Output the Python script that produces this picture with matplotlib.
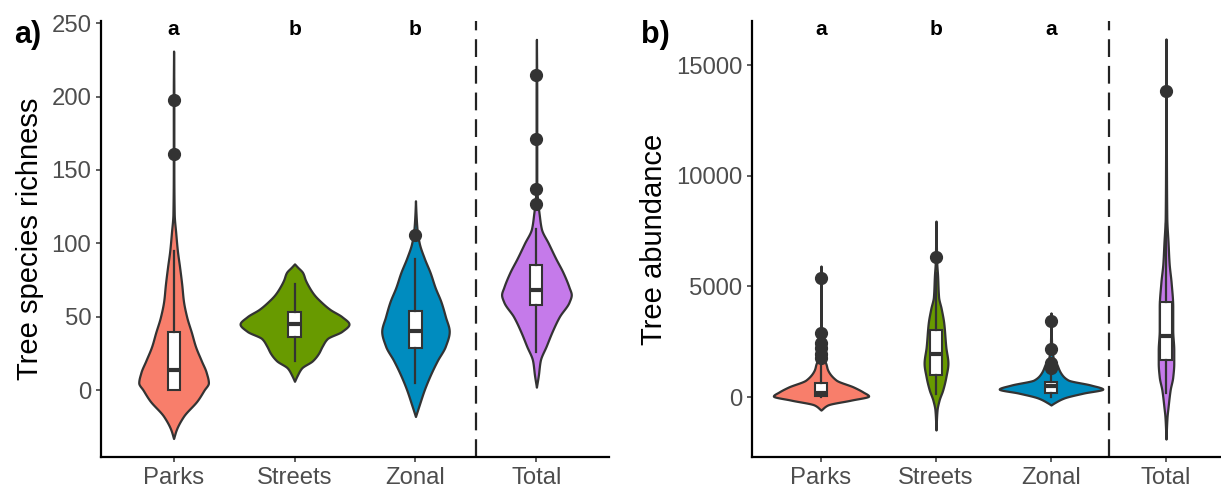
import numpy as np
import matplotlib
matplotlib.use("Agg")
import matplotlib.pyplot as plt

plt.rcParams['font.family'] = ['Liberation Sans', 'DejaVu Sans']

# ---------------- data ----------------
categories = ["Parks", "Streets", "Zonal", "Total"]
colors = ["#F87E6B", "#689A00", "#008CBF", "#C57AEA"]

# Panel a: tree species richness
# violin outline: levels and relative density (1 = widest violin)
rich_parks_y = [-33, -27, -18, -7, 0, 5, 12, 20, 30, 39, 50, 61, 72, 84, 95, 107, 120, 150, 200, 231]
rich_parks_d = [0, .05, .18, .44, .56, .64, .60, .51, .40, .33, .24, .18, .15, .11, .07, .04, .012, .005, .005, 0]
rich_streets_y = [6, 10, 15, 20, 25, 30, 35, 40, 45, 50, 55, 60, 65, 70, 75, 80, 84, 86]
rich_streets_d = [0, .05, .13, .33, .44, .51, .60, .87, 1.0, .87, .65, .49, .36, .27, .20, .15, .05, 0]
rich_zonal_y = [-18, -10, 0, 10, 20, 30, 40, 50, 60, 70, 80, 90, 100, 109, 120, 129]
rich_zonal_d = [0, .07, .16, .27, .40, .55, .62, .55, .47, .36, .27, .16, .07, .03, .01, 0]
rich_total_y = [2, 10, 20, 30, 40, 50, 60, 65, 70, 80, 90, 100, 110, 120, 130, 140, 200, 239]
rich_total_d = [0, .035, .07, .18, .29, .42, .60, .64, .60, .49, .35, .22, .09, .05, .02, .006, .006, 0]

# box statistics (q1, median, q3, lower whisker, upper whisker) and outliers
rich_q1 = [0, 36, 28.5, 58]
rich_med = [13.5, 45, 40, 68]
rich_q3 = [39.5, 53, 54, 85]
rich_lo = [0, 20, 4.6, 26]
rich_hi = [95, 72, 89, 110]
rich_out = [[161, 198], [], [106], [127, 137, 171, 215]]
rich_letters = ["a", "b", "b"]

# Panel b: tree abundance
abun_parks_y = [-590, -360, -140, 45, 230, 450, 770, 1220, 1580, 1700, 3000, 5920]
abun_parks_d = [0, .13, .58, .92, .81, .63, .29, .13, .08, .02, .008, 0]
abun_streets_y = [-1490, -590, -140, 320, 900, 1530, 2260, 3340, 4000, 4520, 5500, 6050, 7950]
abun_streets_d = [0, .02, .06, .13, .19, .23, .19, .15, .10, .05, .03, .015, 0]
abun_zonal_y = [-360, -270, -45, 180, 360, 540, 770, 1080, 1540, 1800, 2500, 3800]
abun_zonal_d = [0, .06, .25, .63, 1.0, .77, .33, .19, .10, .04, .01, 0]
abun_total_y = [-1900, -900, -450, 320, 900, 1540, 2120, 3030, 4070, 5150, 6050, 6960, 8130, 12000, 16180]
abun_total_d = [0, .02, .04, .08, .13, .15, .15, .13, .13, .10, .06, .04, .015, .006, 0]

abun_q1 = [60, 990, 180, 1670]
abun_med = [200, 1940, 500, 2760]
abun_q3 = [620, 3030, 680, 4290]
abun_lo = [0, 150, 20, 200]
abun_hi = [1500, 5600, 1200, 7800]
abun_out = [[1750, 1950, 2200, 2450, 2900, 5380], [6330], [1300, 1400, 1550, 2170, 3430], [13830]]
abun_letters = ["a", "b", "a"]

# ---------------- helpers ----------------
def pchip(x, y, xn):
    x = np.asarray(x, float); y = np.asarray(y, float)
    h = np.diff(x); d = np.diff(y) / h
    n = len(x); m = np.zeros(n)
    for k in range(1, n - 1):
        if d[k - 1] * d[k] > 0:
            w1 = 2 * h[k] + h[k - 1]; w2 = h[k] + 2 * h[k - 1]
            m[k] = (w1 + w2) / (w1 / d[k - 1] + w2 / d[k])
    m[0] = d[0]; m[-1] = d[-1]
    idx = np.clip(np.searchsorted(x, xn) - 1, 0, n - 2)
    t = (xn - x[idx]) / h[idx]
    h00 = 2 * t**3 - 3 * t**2 + 1; h10 = t**3 - 2 * t**2 + t
    h01 = -2 * t**3 + 3 * t**2; h11 = t**3 - t**2
    return h00 * y[idx] + h10 * h[idx] * m[idx] + h01 * y[idx + 1] + h11 * h[idx] * m[idx + 1]

EDGE = "#333333"

def draw_panel(ax, violins, q1, med, q3, lo, hi, outs):
    for i, (vy, vd) in enumerate(violins):
        pos = i + 1
        yy = np.linspace(vy[0], vy[-1], 600)
        ww = np.clip(pchip(vy, vd, yy), 0, None) * 0.45
        ax.fill_betweenx(yy, pos - ww, pos + ww, facecolor=colors[i],
                         edgecolor=EDGE, linewidth=1.6, zorder=2)
    stats = []
    for i in range(len(q1)):
        stats.append(dict(med=med[i], q1=q1[i], q3=q3[i], whislo=lo[i],
                          whishi=hi[i], fliers=np.array(outs[i])))
    ax.bxp(stats, positions=[1, 2, 3, 4], widths=0.1, patch_artist=True,
           showcaps=False, manage_ticks=False,
           boxprops=dict(facecolor="white", edgecolor=EDGE, linewidth=1.5),
           whiskerprops=dict(color=EDGE, linewidth=1.6),
           medianprops=dict(color=EDGE, linewidth=3.0),
           flierprops=dict(marker="o", markerfacecolor=EDGE, markeredgecolor=EDGE,
                           markersize=8.5, linestyle="none"),
           zorder=3)
    ax.axvline(3.5, color="#222222", linewidth=1.6, linestyle=(0, (8, 4)), zorder=1)
    ax.set_xlim(0.4, 4.6)
    ax.set_xticks([1, 2, 3, 4])
    ax.set_xticklabels(categories)
    for s in ["top", "right"]:
        ax.spines[s].set_visible(False)
    for s in ["left", "bottom"]:
        ax.spines[s].set_linewidth(1.6)
        ax.spines[s].set_color("black")
    ax.tick_params(axis="both", length=3.5, width=1.1, color=EDGE,
                   labelsize=17.2, labelcolor="#4D4D4D", pad=3.5)

# ---------------- figure ----------------
W, H = 1221, 493
fig = plt.figure(figsize=(W / 100, H / 100), dpi=100)

ax1 = fig.add_axes([101 / W, 1 - 457 / H, 508 / W, 436 / H])
draw_panel(ax1,
           [(rich_parks_y, rich_parks_d), (rich_streets_y, rich_streets_d),
            (rich_zonal_y, rich_zonal_d), (rich_total_y, rich_total_d)],
           rich_q1, rich_med, rich_q3, rich_lo, rich_hi, rich_out)
ax1.set_ylim(-45.6, 251.5)
ax1.set_yticks([0, 50, 100, 150, 200, 250])
ax1.set_ylabel("Tree species richness", fontsize=21, color="black")
ax1.yaxis.set_label_coords(-0.112, 0.5)
for i, t in enumerate(rich_letters):
    ax1.text(i + 1, 242, t, ha="center", va="baseline", fontsize=15, fontweight="bold")

ax2 = fig.add_axes([752 / W, 1 - 457 / H, 483 / W, 436 / H])
draw_panel(ax2,
           [(abun_parks_y, abun_parks_d), (abun_streets_y, abun_streets_d),
            (abun_zonal_y, abun_zonal_d), (abun_total_y, abun_total_d)],
           abun_q1, abun_med, abun_q3, abun_lo, abun_hi, abun_out)
ax2.set_ylim(-2710, 16990)
ax2.set_yticks([0, 5000, 10000, 15000])
ax2.set_ylabel("Tree abundance", fontsize=21, color="black")
ax2.yaxis.set_label_coords(-0.174, 0.5)
for i, t in enumerate(abun_letters):
    ax2.text(i + 1, 16360, t, ha="center", va="baseline", fontsize=15, fontweight="bold")

fig.text(14 / W, 1 - 43 / H, "a)", fontsize=22, fontweight="bold", va="baseline")
fig.text(641 / W, 1 - 43 / H, "b)", fontsize=22, fontweight="bold", va="baseline")

fig.savefig("out.png", dpi=100)
